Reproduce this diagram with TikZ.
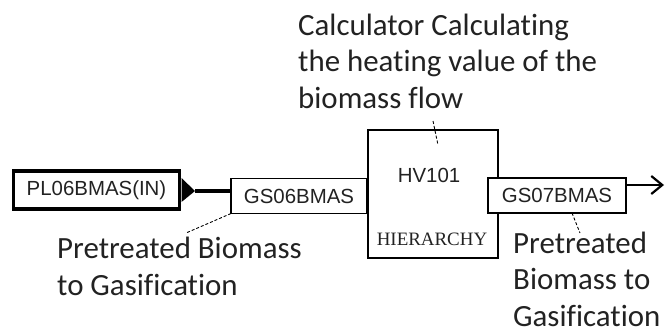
\documentclass[tikz,border=0pt]{standalone}
\usepackage{fontspec}
\setmainfont{Carlito}[Ligatures=NoCommon]
\newfontfamily\arialf{Liberation Sans}
\newfontfamily\timesf{Liberation Serif}
\usetikzlibrary{arrows.meta}
\definecolor{txt}{HTML}{222222}
\tikzset{
  lbl/.style={font=\fontsize{31}{36.5}\selectfont, text=txt, align=left, inner sep=0pt, anchor=base west},
  boxtxt/.style={font=\arialf\fontsize{20.5}{24}\selectfont, text=txt, inner sep=0pt},
  thinbox/.style={draw=black, line width=1.1bp, fill=white},
  leader/.style={draw=black, line width=0.9bp, densely dashed}
}
\begin{document}
\begin{tikzpicture}[x=1bp,y=-1bp]
\useasboundingbox (0,0) rectangle (665,334);
% source block
\node[draw=black, line width=3.5bp, minimum width=166bp, minimum height=38bp, inner sep=0pt, boxtxt] (pl) at (96.5,190) {PL06BMAS(IN)};
\coordinate (tipA) at (195,191);
\fill[black] (181.5,178) -- (tipA) -- (181.5,202) -- cycle;
% HV101 hierarchy block
\node[thinbox, line width=1.3bp, minimum width=130bp, minimum height=128bp, inner sep=0pt] (hv) at (433,194) {};
\node[boxtxt] (hvname) at (429,175) {HV101};
\node[font=\timesf\fontsize{19}{22}\selectfont, text=txt, inner sep=0pt] (hier) at (432,239) {HIERARCHY};
% stream labels
\node[thinbox, minimum width=136bp, minimum height=35bp, inner sep=0pt, boxtxt] (gs6) at (299,196) {GS06BMAS};
\node[thinbox, minimum width=138bp, minimum height=35bp, inner sep=0pt, boxtxt] (gs7) at (557,195.5) {GS07BMAS};
% connectors
\draw[line width=3.2bp] (tipA) -- (gs6.west |- tipA);
\coordinate (outend) at (664,185);
\draw[line width=1.6bp, -{Straight Barb[length=11bp,width=18bp,line width=2.2bp]}] (gs7.east |- outend) -- (outend);
% annotation texts (anchor = baseline of last line)
\node[lbl] (calc) at (298,108) {Calculator Calculating\\the heating value of the\\biomass flow};
\node[lbl] (pre1) at (57,295) {Pretreated Biomass\\to Gasification};
\node[lbl] (pre2) at (513,326) {Pretreated\\Biomass to\\Gasification};
% leaders
\coordinate (c1) at (433,121);
\coordinate (c2) at (438,145);
\draw[leader] (c1) -- (c2);
\coordinate (l1) at (231,213.5);
\coordinate (l2) at (186,233);
\draw[leader] (l1) -- (l2);
\coordinate (r1) at (572,213);
\coordinate (r2) at (580,233);
\draw[leader] (r1) -- (r2);
\end{tikzpicture}
\end{document}
